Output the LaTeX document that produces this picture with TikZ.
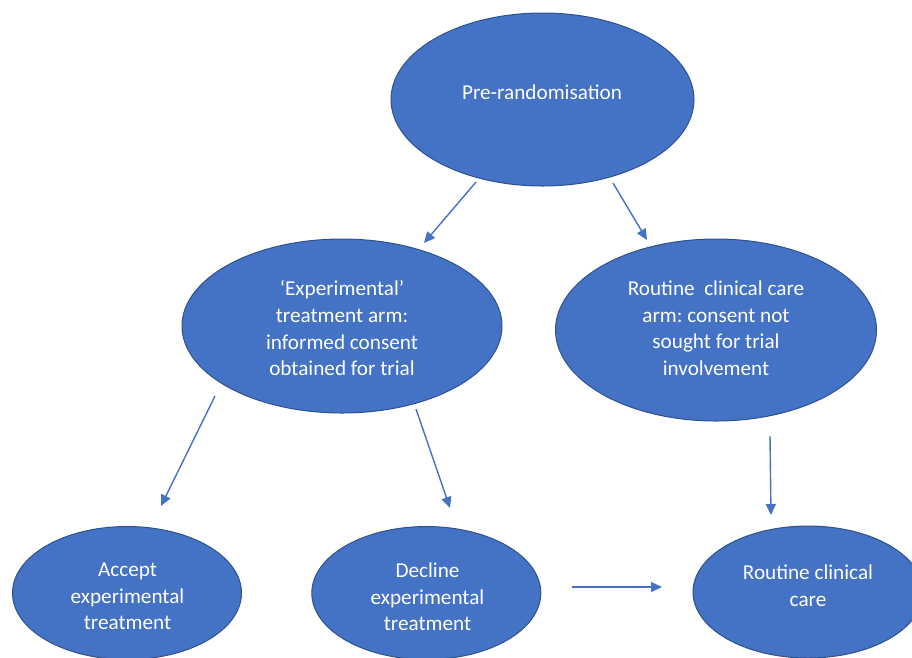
\documentclass[tikz,border=0pt]{standalone}
\usepackage{fontspec}
\setmainfont{Carlito}
\frenchspacing
\usetikzlibrary{shapes.geometric,arrows.meta}
\definecolor{bubblefill}{HTML}{4472C4}
\definecolor{bubbleedge}{HTML}{2F528F}
\begin{document}
\begin{tikzpicture}[x=1pt,y=-1pt,
  bubble/.style={ellipse, fill=bubblefill, draw=bubbleedge, line width=1pt,
                 inner sep=0pt, outer sep=0pt},
  caption/.style={text=white, align=center, inner sep=0pt,
                  font=\fontsize{21.2}{26.7}\selectfont},
  flow/.style={draw=bubblefill, line width=1.4pt,
               -{Triangle[length=11pt,width=10pt]}}]
\useasboundingbox (0,0) rectangle (912,657);
\begin{scope}
\clip (0,0) rectangle (912,657);

% ellipses
\node[bubble, minimum width=303pt, minimum height=173pt] (pre)  at (542.5,99.5) {};
\node[bubble, minimum width=320pt, minimum height=174pt] (exp)  at (342,326)   {};
\node[bubble, minimum width=321pt, minimum height=182pt] (arm)  at (716,330)   {};
\node[bubble, minimum width=229pt, minimum height=133pt] (acc)  at (127,593)   {};
\node[bubble, minimum width=229pt, minimum height=133pt] (dec)  at (426.3,593) {};
\node[bubble, minimum width=230pt, minimum height=132pt] (care) at (808,592)   {};

% captions
\node[caption] (pre-t)  at (542,92)      {Pre-randomisation};
\node[caption] (exp-t)  at (342,328.3)   {‘Experimental’\\treatment arm:\\informed consent\\obtained for trial};
\node[caption] (arm-t)  at (716,328.3)   {Routine\ \ clinical care\\arm: consent not\\sought for trial\\involvement};
\node[caption] (acc-t)  at (127.5,596.5) {Accept\\experimental\\treatment};
\node[caption] (dec-t)  at (427.5,597)   {Decline\\experimental\\treatment};
\node[caption] (care-t) at (808,585.5)   {Routine clinical\\care};
\end{scope}

% free-standing arrow ends
\coordinate (pre-l)  at (476,182);
\coordinate (exp-in) at (424,243);
\coordinate (pre-r)  at (613,183);
\coordinate (arm-in) at (647,240);
\coordinate (exp-l)  at (215,396);
\coordinate (acc-in) at (161,506);
\coordinate (exp-r)  at (416,409);
\coordinate (dec-in) at (450,508);
\coordinate (arm-b)  at (770,436);
\coordinate (care-in) at (771,515);
\coordinate (dec-r)  at (572,587);
\coordinate (care-l) at (662,587);

% arrows
\draw[flow] (pre-l) -- (exp-in);
\draw[flow] (pre-r) -- (arm-in);
\draw[flow] (exp-l) -- (acc-in);
\draw[flow] (exp-r) -- (dec-in);
\draw[flow] (arm-b) -- (care-in);
\draw[flow] (dec-r) -- (care-l);
\end{tikzpicture}
\end{document}
